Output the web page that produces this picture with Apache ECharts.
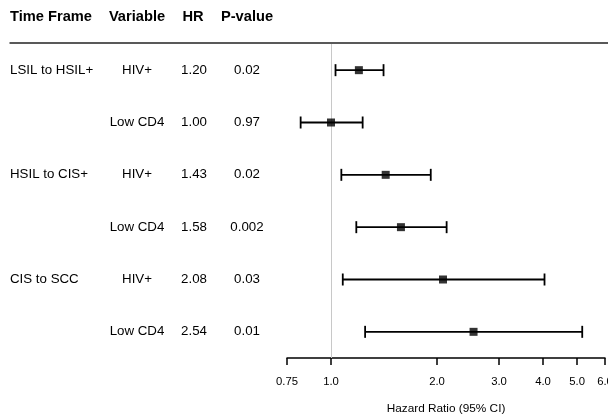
<!DOCTYPE html>
<html>
<head>
<meta charset="utf-8">
<script src="https://cdn.jsdelivr.net/npm/echarts@6.0.0/dist/echarts.min.js"></script>
<style>
  html, body { margin: 0; padding: 0; background: #fff; }
  #chart { width: 608px; height: 416px; }
</style>
</head>
<body>
<div id="chart"></div>
<script>
// table columns
var timeFrames = ["LSIL to HSIL+", "", "HSIL to CIS+", "", "CIS to SCC", ""];
var variables = ["HIV+", "Low CD4", "HIV+", "Low CD4", "HIV+", "Low CD4"];
var hrLabels = ["1.20", "1.00", "1.43", "1.58", "2.08", "2.54"];
var pValues = ["0.02", "0.97", "0.02", "0.002", "0.03", "0.01"];
// hazard ratio + 95% CI
var hr = [1.20, 1.00, 1.43, 1.58, 2.08, 2.54];
var ciLow = [1.03, 0.82, 1.07, 1.18, 1.08, 1.25];
var ciHigh = [1.41, 1.23, 1.92, 2.13, 4.04, 5.17];
// x axis ticks
var tickValues = [0.75, 1, 2, 3, 4, 5, 6];
var tickLabels = ["0.75", "1.0", "2.0", "3.0", "4.0", "5.0", "6.0"];
var headers = ["Time Frame", "Variable", "HR", "P-value"];

var FONT = "'Liberation Sans', Arial, sans-serif";

var chart = echarts.init(document.getElementById("chart"));

var ciData = hr.map(function (v, i) { return [ciLow[i], ciHigh[i], i]; });
var pointData = hr.map(function (v, i) { return [v, i]; });
var tableData = hr.map(function (v, i) { return [1, i]; });

function renderCI(params, api) {
  var y = api.value(2);
  var p1 = api.coord([api.value(0), y]);
  var p2 = api.coord([api.value(1), y]);
  var h = 6;
  var st = { stroke: "#000", lineWidth: 1.8 };
  return {
    type: "group",
    children: [
      { type: "line", shape: { x1: p1[0], y1: p1[1], x2: p2[0], y2: p2[1] }, style: st },
      { type: "line", shape: { x1: p1[0], y1: p1[1] - h, x2: p1[0], y2: p1[1] + h }, style: st },
      { type: "line", shape: { x1: p2[0], y1: p2[1] - h, x2: p2[0], y2: p2[1] + h }, style: st }
    ]
  };
}

function renderTable(params, api) {
  var i = api.value(1);
  var y = api.coord([1, i])[1];
  function txt(x, s, align) {
    return {
      type: "text", x: x, y: y,
      style: { text: s, fill: "#000", font: "13.3px " + FONT, align: align, verticalAlign: "middle" }
    };
  }
  return {
    type: "group",
    children: [
      txt(10, timeFrames[i], "left"),
      txt(137, variables[i], "center"),
      txt(194, hrLabels[i], "center"),
      txt(247, pValues[i], "center")
    ]
  };
}

function headerText(x, s, align) {
  return {
    type: "text", x: x, y: 17,
    style: { text: s, font: "bold 14.67px " + FONT, fill: "#000", align: align, verticalAlign: "middle" }
  };
}

var option = {
  animation: false,
  backgroundColor: "#fff",
  grid: { left: 287, right: 3, top: 44, bottom: 58, containLabel: false, outerBoundsMode: "none" },
  xAxis: {
    type: "log",
    min: 0.75,
    max: 6,
    name: "Hazard Ratio (95% CI)",
    nameLocation: "middle",
    nameGap: 45,
    nameTextStyle: { color: "#000", fontSize: 11.8, fontFamily: FONT },
    splitLine: { show: false },
    axisLine: { show: true, onZero: false, lineStyle: { color: "#000", width: 1.5 } },
    axisTick: { show: true, length: 7, lineStyle: { color: "#000", width: 1.5 }, customValues: tickValues },
    axisLabel: {
      color: "#000", fontSize: 11.3, fontFamily: FONT, margin: 18,
      customValues: tickValues,
      formatter: function (v) {
        var k = tickValues.indexOf(+(+v).toFixed(2));
        return k >= 0 ? tickLabels[k] : "";
      }
    }
  },
  yAxis: {
    type: "value",
    min: -0.5,
    max: 5.5,
    inverse: true,
    show: false,
    splitLine: { show: false }
  },
  graphic: [
    { type: "line", shape: { x1: 9.5, y1: 43, x2: 608, y2: 43 }, style: { stroke: "#222", lineWidth: 1.5 } },
    headerText(10, headers[0], "left"),
    headerText(137, headers[1], "center"),
    headerText(193, headers[2], "center"),
    headerText(247, headers[3], "center")
  ],
  series: [
    {
      type: "custom",
      renderItem: renderTable,
      data: tableData,
      clip: false,
      z: 1,
      markLine: {
        silent: true,
        z: 1,
        symbol: "none",
        label: { show: false },
        lineStyle: { color: "#c8c8c8", type: "solid", width: 1 },
        data: [{ xAxis: 1 }]
      }
    },
    {
      type: "custom",
      renderItem: renderCI,
      data: ciData,
      encode: { x: [0, 1], y: 2 },
      z: 3
    },
    {
      type: "scatter",
      data: pointData,
      symbol: "rect",
      symbolSize: 8,
      itemStyle: { color: "#000" },
      z: 4
    }
  ]
};

chart.setOption(option);
</script>
</body>
</html>
